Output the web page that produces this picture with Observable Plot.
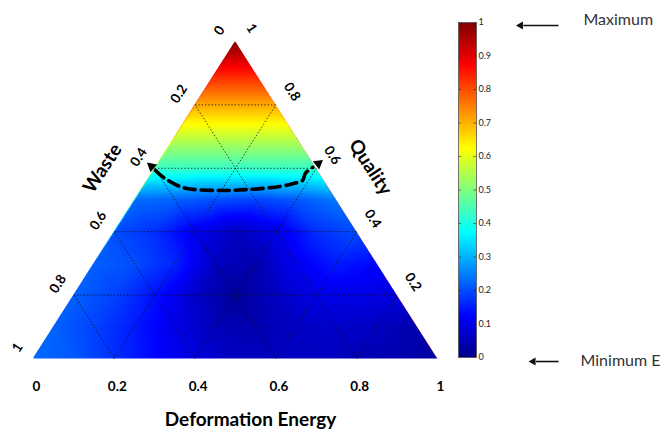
<!DOCTYPE html>
<html>
<head>
<meta charset="utf-8">
<script src="https://cdn.jsdelivr.net/npm/d3@7"></script>
<script src="https://cdn.jsdelivr.net/npm/@observablehq/plot@0.6"></script>
<style>
  body { margin: 0; background: #fff; }
  #wrap { position: relative; width: 663px; height: 432px; overflow: hidden; background: #fff; }
  #wrap svg { position: absolute; left: 0; top: 0; }
</style>
</head>
<body>
<div id="wrap"></div>
<script>
// ---- data ----
// Rows of the triangular sample grid (constant Quality), values from left (Deformation Energy 0) to right.
const qualityLevels = [0, 0.1, 0.2, 0.3, 0.4, 0.5, 0.6, 0.7, 0.8, 0.9, 1];
const deStep = 0.1;
const fieldRows = [
  [0.23, 0.21, 0.17, 0.13, 0.09, 0.06, 0.06, 0.06, 0.05, 0.04, 0.03],
  [0.22, 0.19, 0.15, 0.10, 0.05, 0.04, 0.06, 0.07, 0.06, 0.04],
  [0.22, 0.19, 0.14, 0.07, 0.02, 0.06, 0.10, 0.10, 0.09],
  [0.22, 0.20, 0.16, 0.06, 0.04, 0.11, 0.15, 0.13],
  [0.20, 0.17, 0.11, 0.06, 0.10, 0.17, 0.20],
  [0.23, 0.22, 0.20, 0.19, 0.21, 0.24],
  [0.43, 0.43, 0.43, 0.43, 0.43],
  [0.57, 0.57, 0.57, 0.57],
  [0.71, 0.71, 0.71],
  [0.85, 0.85],
  [1.0]
];
const axisTicks = [0, 0.2, 0.4, 0.6, 0.8, 1];
const wasteTicks = [0, 0.2, 0.4, 0.6, 0.8, 1];
const qualityTicks = [0.2, 0.4, 0.6, 0.8, 1];
const gridTicks = [0.2, 0.4, 0.6, 0.8];
const colorbarTicks = [0, 0.1, 0.2, 0.3, 0.4, 0.5, 0.6, 0.7, 0.8, 0.9, 1];
// dashed path (ternary x, y = Quality)
const pathX = [0.302, 0.322, 0.371, 0.455, 0.530, 0.611, 0.644, 0.666, 0.673, 0.691];
const pathY = [0.593, 0.571, 0.539, 0.530, 0.533, 0.543, 0.552, 0.562, 0.584, 0.603];
const arrowTipX = [0.292, 0.705];
const arrowTipY = [0.606, 0.615];
const arrowTipAngle = [-50, 52];
// jet colour map
const jetStops = [0, 0.125, 0.375, 0.625, 0.875, 1];
const jetColors = ["#000088", "#0000ff", "#00ffff", "#ffff00", "#ff0000", "#800000"];

const colorScale = {type: "linear", domain: jetStops, range: jetColors, interpolate: "rgb", clamp: true};
const font = "Lato, 'Open Sans', sans-serif";

// samples in cartesian ternary space: x = DE + Q/2, y = Q
const samples = qualityLevels.flatMap((q, i) =>
  fieldRows[i].map((v, j) => ({q, de: j * deStep, v}))
);
const gridLines = gridTicks.flatMap(t => [
  {x1: t / 2, y1: t, x2: 1 - t / 2, y2: t},
  {x1: t, y1: 0, x2: t + (1 - t) / 2, y2: 1 - t},
  {x1: 1 - t, y1: 0, x2: (1 - t) / 2, y2: 1 - t}
]);
const pathPts = pathX.map((x, i) => [x, pathY[i]]);
const tips = arrowTipX.map((x, i) => ({x, y: arrowTipY[i], a: arrowTipAngle[i]}));
const leftMask = [{x: -0.03, lo: -0.06, hi: 1.1}, {x: 0.5, lo: 1, hi: 1.1}];
const rightMask = [{x: 0.5, lo: 1, hi: 1.1}, {x: 1.03, lo: -0.06, hi: 1.1}];
const fmt = d => String(d);

const main = Plot.plot({
  width: 663, height: 432,
  marginLeft: 33, marginRight: 226, marginTop: 41, marginBottom: 74,
  style: {fontFamily: font, background: "transparent", overflow: "visible"},
  x: {domain: [0, 1], axis: null},
  y: {domain: [0, 1], axis: null},
  color: colorScale,
  marks: [
    Plot.raster(samples, {x: d => d.de + d.q / 2, y: "q", fill: "v", interpolate: "barycentric", x1: 0, x2: 1, y1: 0, y2: 1}),
    Plot.areaY(leftMask, {x: "x", y1: "lo", y2: "hi", fill: "white"}),
    Plot.areaY(rightMask, {x: "x", y1: "lo", y2: "hi", fill: "white"}),
    Plot.link(gridLines, {x1: "x1", y1: "y1", x2: "x2", y2: "y2", stroke: "#111", strokeWidth: 1, strokeOpacity: 0.85, strokeDasharray: "1.3,2"}),
    Plot.line(pathPts, {curve: "catmull-rom", stroke: "black", strokeWidth: 3.6, strokeDasharray: "11,6"}),
    Plot.dot(tips, {x: "x", y: "y", symbol: "triangle", r: 3.8, fill: "black", rotate: "a"}),
    // bottom axis (Deformation Energy)
    Plot.text(axisTicks, {x: d => d, y: 0, text: fmt, dy: 28, dx: 3, fontSize: 13.5, fontWeight: "bold", fill: "black"}),
    // left axis (Waste), 0 at apex
    Plot.text(wasteTicks, {x: d => (1 - d) / 2, y: d => 1 - d, text: fmt, dx: -16, dy: -11, rotate: -57, fontSize: 13.5, fontWeight: "bold", fill: "black"}),
    // right axis (Quality)
    Plot.text(qualityTicks, {x: d => 1 - d / 2, y: d => d, text: fmt, dx: 16, dy: -13, rotate: 57, fontSize: 13.5, fontWeight: "bold", fill: "black"}),
    Plot.text(["Deformation Energy"], {x: 0.5, y: 0, dx: 15, dy: 61, fontSize: 19, fontWeight: "bold", fill: "black"}),
    Plot.text(["Waste"], {x: 0.3, y: 0.6, dx: -52, dy: 0, rotate: -57, fontSize: 19, fontWeight: "bold", fill: "black"}),
    Plot.text(["Quality"], {x: 0.7, y: 0.6, dx: 54, dy: -1, rotate: 57, fontSize: 19, fontWeight: "bold", fill: "black"})
  ]
});

const bar = Plot.plot({
  width: 663, height: 432,
  marginLeft: 458, marginRight: 187, marginTop: 22, marginBottom: 75,
  style: {fontFamily: font, background: "transparent", overflow: "visible"},
  x: {domain: [0, 1], axis: null},
  y: {domain: [0, 1], axis: null},
  color: colorScale,
  marks: [
    Plot.raster({x1: 0, x2: 1, y1: 0, y2: 1, fill: (x, y) => y}),
    Plot.ruleY(colorbarTicks, {x1: 0, x2: 0.16, stroke: "#222", strokeWidth: 0.8, strokeOpacity: 0.7}),
    Plot.ruleY(colorbarTicks, {x1: 0.84, x2: 1, stroke: "#222", strokeWidth: 0.8, strokeOpacity: 0.7}),
    Plot.frame({stroke: "#555", strokeWidth: 0.8}),
    Plot.axisY({anchor: "right", ticks: colorbarTicks, tickSize: 0, tickPadding: 2, fontSize: 9, tickFormat: fmt, color: "#222", label: null}),
    // annotations
    Plot.link([1], {x1: 5.56, x2: 3.6, y1: 0.991, y2: 0.991, stroke: "#111", strokeWidth: 1.6}),
    Plot.dot([1], {x: 3.45, y: 0.991, symbol: "triangle", r: 3, fill: "#111", rotate: -90}),
    Plot.text(["Maximum"], {x: 6.94, y: 1, dy: -3, textAnchor: "start", fontSize: 16, fill: "#333"}),
    Plot.link([1], {x1: 5.56, x2: 4.3, y1: -0.012, y2: -0.012, stroke: "#111", strokeWidth: 1.6}),
    Plot.dot([1], {x: 4.15, y: -0.012, symbol: "triangle", r: 3, fill: "#111", rotate: -90}),
    Plot.text(["Minimum E"], {x: 6.78, y: 0, dy: 3, textAnchor: "start", fontSize: 16, fill: "#333"})
  ]
});

document.getElementById("wrap").append(main, bar);
</script>
</body>
</html>
